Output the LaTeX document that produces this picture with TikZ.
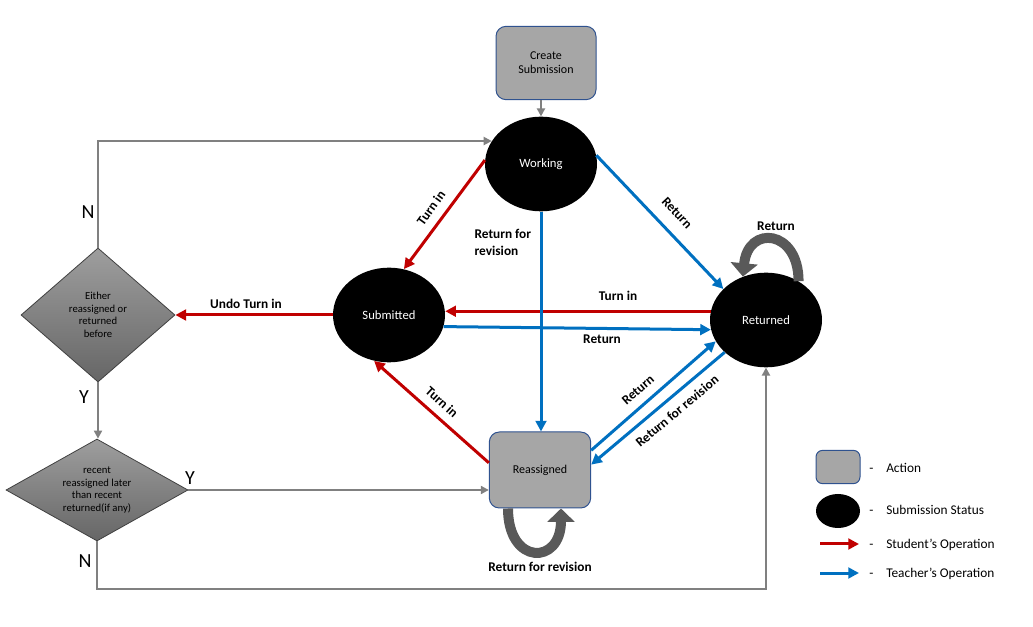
\documentclass[tikz,border=0pt]{standalone}
\usepackage{fontspec}
\setmainfont{Carlito}
\usetikzlibrary{shapes.geometric,arrows.meta}
\definecolor{actfill}{HTML}{A6A6A6}
\definecolor{actborder}{HTML}{2F528F}
\definecolor{stu}{HTML}{C00000}
\definecolor{tea}{HTML}{0070C0}
\definecolor{flow}{HTML}{808080}
\definecolor{loopc}{HTML}{595959}
\begin{document}
\begin{tikzpicture}[x=0.75pt,y=-0.75pt,
 action/.style={draw=actborder,fill=actfill,rounded corners=7.5pt,minimum width=75pt,minimum height=55pt,inner sep=0pt,align=center,font=\fontsize{9}{10.5}\selectfont,line width=0.75pt},
 status/.style={ellipse,fill=black,text=white,minimum width=84pt,minimum height=71pt,inner sep=0pt,font=\fontsize{9.5}{11}\selectfont},
 decision/.style={diamond,draw=black!75,top color=black!38,bottom color=black!60,inner sep=0pt,align=center,font=\fontsize{8}{9.5}\selectfont,line width=0.6pt},
 stuarrow/.style={draw=stu,line width=2.25pt,-{Triangle[length=8pt,width=8pt]}},
 teaarrow/.style={draw=tea,line width=2.25pt,-{Triangle[length=8pt,width=8pt]}},
 flowarrow/.style={draw=flow,line width=1.5pt,-{Triangle[length=6pt,width=6pt]}},
 selfloop/.style={draw=loopc,line width=7.5pt,-{Triangle[length=10pt,width=20pt]}},
 lbl/.style={font=\bfseries\fontsize{10}{12.75}\selectfont,inner sep=1pt},
 yn/.style={font=\fontsize{15}{18}\selectfont,inner sep=0pt},
 legtxt/.style={font=\fontsize{10}{12}\selectfont,anchor=base west,inner sep=0pt},
]
\useasboundingbox (0,0) rectangle (1033,627);

% nodes
\node[action] (create) at (546,63) {Create\\Submission};
\node[status] (working) at (541,164) {Working};
\node[status] (submitted) at (389,315) {Submitted};
\node[status] (returned) at (766,320) {Returned};
\node[action,minimum width=76pt,minimum height=57pt] (reassigned) at (540,470) {Reassigned};
\node[decision,minimum width=115.5pt,minimum height=100.5pt,aspect=1.15] (either) at (98,315) {Either\\reassigned or\\returned\\before};
\node[decision,minimum width=136.5pt,minimum height=76.5pt,aspect=1.78] (recent) at (97,490) {recent\\reassigned later\\than recent\\returned(if any)};

% flow connectors
\draw[flowarrow] (create.south -| working.north) -- (working.north);
\draw[flowarrow] (either.north) |- (working.155);
\draw[flowarrow] (either.south) -- (either.south |- recent.north);
\draw[flowarrow] (recent.east) -- (recent.east -| reassigned.west);
\draw[flowarrow] (recent.south) -- ++(0,48) -| (returned.south);

% student operations
\draw[stuarrow] (working.176) -- (submitted.72);
\draw[stuarrow] (returned.171) -- (returned.171 -| submitted.east);
\draw[stuarrow] (submitted.west) -- (either.east);
\draw[stuarrow] (reassigned.172) -- (submitted.-108);

% teacher operations
\draw[teaarrow] (working.south) -- (working.south |- reassigned.north);
\draw[teaarrow] (working.9) -- (returned.144);
\draw[teaarrow] (submitted.-12) -- (returned.-170);
\draw[teaarrow] (reassigned.21) -- (returned.-157);
\draw[teaarrow] (returned.-142) -- (reassigned.6);

% self loops
\draw[selfloop] (returned.50) .. controls +(0,-52) and +(5,-52) .. (returned.118);
\draw[selfloop] ([xshift=-24pt]reassigned.south) .. controls +(0,57) and +(0,57) .. ([xshift=15.75pt]reassigned.south);

% labels
\node[lbl,rotate=54] (l1) at (431,208) {Turn in};
\node[lbl,align=left,anchor=west] (l2) at (473,242) {Return for\\revision};
\node[lbl,rotate=-47] (l3) at (677,213) {Return};
\node[lbl] (l4) at (776,226) {Return};
\node[lbl] (l5) at (618,296) {Turn in};
\node[lbl] (l6) at (246,304) {Undo Turn in};
\node[lbl] (l7) at (602,339) {Return};
\node[lbl,rotate=-42] (l8) at (442,402) {Turn in};
\node[lbl,rotate=41] (l9) at (638,390) {Return};
\node[lbl,rotate=40] (l10) at (677,411) {Return for revision};
\node[lbl] (l11) at (540,567) {Return for revision};
\node[yn] (n1) at (88,212) {N};
\node[yn] (y1) at (84,397) {Y};
\node[yn] (y2) at (190,478) {Y};
\node[yn] (n2) at (85,561) {N};

% legend
\node[action,minimum width=33pt,minimum height=25pt,rounded corners=5pt] (legact) at (838,467) {};
\node[status,minimum width=33pt,minimum height=25.5pt] (legstat) at (838,511) {};
\coordinate (lsa) at (820,544);
\coordinate (lsb) at (859,544);
\coordinate (lta) at (820,573);
\coordinate (ltb) at (859,573);
\draw[stuarrow] (lsa) -- (lsb);
\draw[teaarrow] (lta) -- (ltb);
\node[legtxt] (d1) at (869,473) {-};
\node[legtxt] (t1) at (886,473) {Action};
\node[legtxt] (d2) at (869,514) {-};
\node[legtxt] (t2) at (886,514) {Submission Status};
\node[legtxt] (d3) at (869,548) {-};
\node[legtxt] (t3) at (886,548) {Student’s Operation};
\node[legtxt] (d4) at (869,577) {-};
\node[legtxt] (t4) at (886,577) {Teacher’s Operation};
\end{tikzpicture}
\end{document}
